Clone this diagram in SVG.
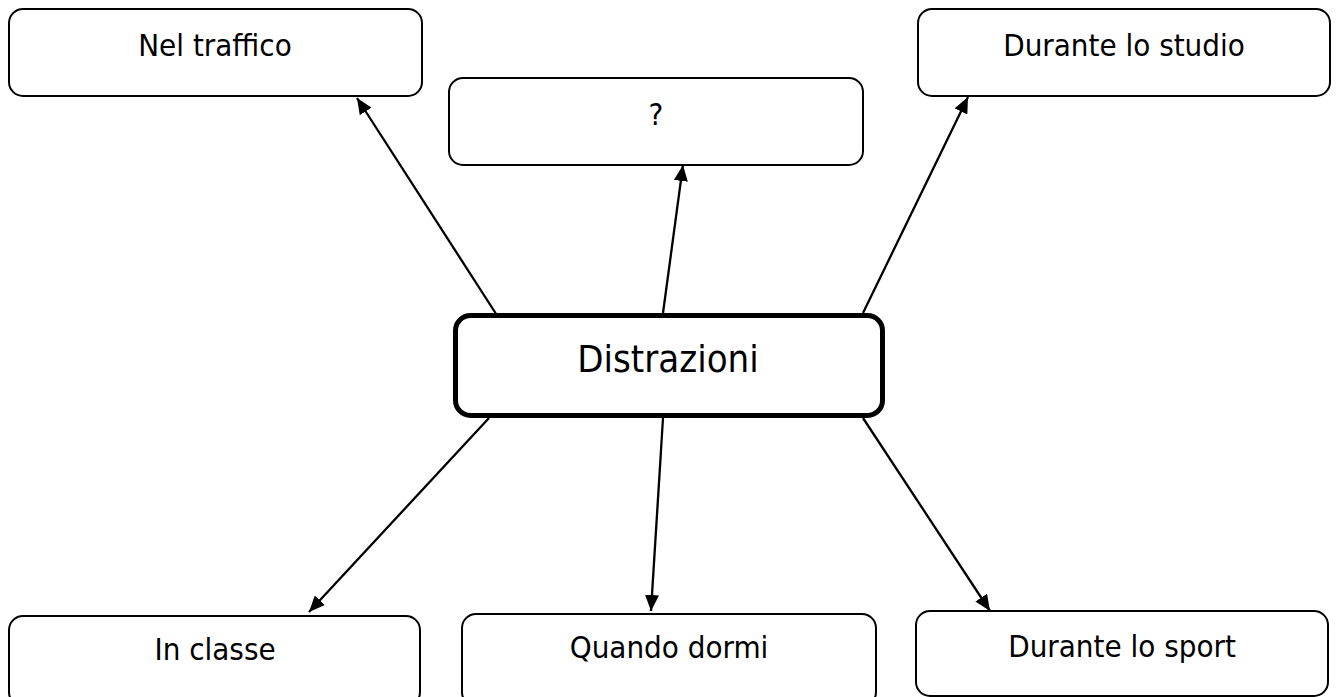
<svg xmlns="http://www.w3.org/2000/svg" width="1336" height="697" viewBox="0 0 1336 697">
<style>
.box{fill:#fff;stroke:#000;stroke-width:2}
.main{fill:#fff;stroke:#000;stroke-width:5}
.t{font-family:'DejaVu Sans Condensed','DejaVu Sans',sans-serif;font-stretch:condensed;font-size:31px;fill:#000;text-anchor:middle}
.tm{font-size:38px}
.c{stroke:#000;stroke-width:2.3;fill:none;marker-end:url(#ah)}
</style>
<defs>
<marker id="ah" viewBox="0 0 16 14" refX="16" refY="7" markerWidth="16" markerHeight="14" markerUnits="userSpaceOnUse" orient="auto">
<path d="M0,0 L16,7 L0,14 z" fill="#000"/>
</marker>
</defs>
<rect width="1336" height="697" fill="#fff"/>
<g id="connectors">
<line class="c" x1="500" y1="320" x2="357" y2="98"/>
<line class="c" x1="663" y1="313" x2="683" y2="165"/>
<line class="c" x1="863" y1="313" x2="968" y2="97"/>
<line class="c" x1="489" y1="418" x2="309" y2="612"/>
<line class="c" x1="663" y1="418" x2="651" y2="611"/>
<line class="c" x1="863" y1="418" x2="990" y2="611"/>
</g>
<g id="nel-traffico"><rect class="box" x="9" y="9" width="413" height="87" rx="14"/><text class="t" x="215" y="56">Nel traffico</text></g>
<g id="question"><rect class="box" x="449" y="78" width="414" height="87" rx="14"/><text class="t" x="656" y="125">?</text></g>
<g id="durante-studio"><rect class="box" x="918" y="9" width="412" height="87" rx="14"/><text class="t" x="1124" y="56">Durante lo studio</text></g>
<g id="distrazioni"><rect class="main" x="455.5" y="315.5" width="427" height="100" rx="15"/><text class="t tm" x="668" y="372">Distrazioni</text></g>
<g id="in-classe"><rect class="box" x="9" y="616" width="411" height="90" rx="14"/><text class="t" x="215" y="660">In classe</text></g>
<g id="quando-dormi"><rect class="box" x="462" y="614" width="414" height="92" rx="14"/><text class="t" x="669" y="658">Quando dormi</text></g>
<g id="durante-sport"><rect class="box" x="916" y="611" width="412" height="85" rx="14"/><text class="t" x="1122" y="657">Durante lo sport</text></g>
</svg>
